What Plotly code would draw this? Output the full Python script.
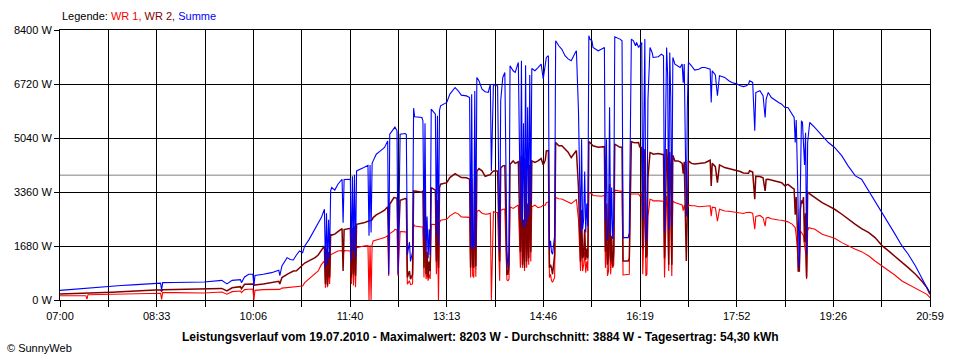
import plotly.graph_objects as go

# time in minutes after 07:00 (19.07.2010)
minutes = [0, 8, 16, 25, 26, 27, 40, 50, 59, 70, 80, 92, 97, 98, 99, 110, 125, 139,
           156, 161, 166, 174, 175, 178, 182, 186, 187, 188, 196, 204, 211, 212, 214, 219, 222, 225, 228, 231, 234, 236,
           240, 243, 246, 249, 252, 255, 256, 257, 258, 259, 260, 261, 262, 265, 268, 272, 273, 274, 280,
           281, 282, 283, 284, 285, 286, 293, 297, 298, 299, 300, 301, 302, 305, 309, 313, 316, 317, 318, 322, 323, 325,
           326, 328, 333, 334, 335, 337, 338, 340, 341, 342, 349, 350, 351, 352, 353, 354, 355, 356, 357, 358, 362, 363,
           364, 365, 366, 367, 373, 376, 381, 384, 387, 392, 395, 396, 397, 398, 399, 400, 401, 402, 404, 407, 410, 413,
           415, 416, 418,
           420, 422, 424, 425, 427, 429, 431, 432, 433, 434, 437, 439, 442, 444, 445, 446, 447, 448, 449, 450, 451, 452,
           453, 454, 455, 458, 461, 464, 466, 468, 469, 471, 472, 473, 474, 475, 476, 477, 478, 481, 484, 487, 490, 493,
           497, 498, 500, 501, 502, 503, 504, 505, 506, 507, 508, 509, 510, 511, 513, 514, 519, 522, 525, 526, 527, 528,
           529, 530, 531, 532, 533, 534, 535, 540, 542, 543, 548, 549, 550, 551, 553, 555, 556, 558,
           559, 561, 562, 563, 564, 565, 566, 567, 569, 571, 572, 577, 580, 582, 583, 584, 585, 586, 587, 588, 589, 590,
           591, 593, 596, 598, 600, 601, 602, 604, 605, 606, 609, 612, 616, 619, 622, 627, 628, 629, 632, 634, 636, 641,
           645, 648, 653, 656, 659, 662, 664, 665, 668, 670, 671, 675, 678, 680, 681, 683, 686, 690, 693, 696, 699,
           702, 706, 708, 709, 710, 711, 712, 713, 714, 715, 716, 717, 718, 719, 720, 721, 722, 723, 728, 735, 741, 747,
           754, 760, 767, 773, 780, 786, 793, 799, 805, 812, 818, 825, 831, 836, 839]

wr1 = [130, 130, 130, 130, 30, 165, 170, 175, 200, 200, 205, 205, 210, 20, 230, 230, 225, 220,
       249, 180, 260, 280, 230, 322, 335, 342, 0, 300, 322, 330, 350, 330, 370, 384, 395, 400, 405, 420, 436, 540,
       650, 747, 830, 903, 1100, 1215, 380, 1100, 400, 1000, 500, 1422, 1422, 1480, 1526, 1540, 1400, 1540, 1526,
       500, 1550, 450, 1600, 400, 1630, 1682, 1690, 0, 1700, 0, 1720, 1837, 1860, 1889, 1941, 2000, 750, 2066, 2150, 2200, 2180,
       747, 2130, 2120, 2100, 490, 600, 480, 500, 2356, 2300, 2273, 2270, 700, 2200, 650, 900, 600, 800, 650, 2356, 2350, 800,
       2330, 0, 2400, 2481, 2512, 2616, 2720, 2680, 2585, 2590, 2570, 700, 2600, 750, 700, 2650, 720, 2750, 2792, 2700, 2668, 2680,
       2700, 0, 2750,
       2720, 2720, 600, 2780, 2823, 2830, 621, 600, 650, 2900, 2850, 2900, 2958, 1000, 2950, 1000, 2000, 900, 2900, 1000, 2200, 1100,
       2800, 1200, 2900, 2950, 2870, 2900, 2950, 2950, 3031, 3050, 700, 800, 600, 550, 650, 700, 3187, 3150, 3140, 3100, 3050, 3000,
       3100, 3130, 2500, 1500, 900, 2000, 900, 1100, 1500, 850, 1200, 900, 3342, 3330, 3310, 3250, 3230, 3230, 3250, 1000, 2000, 750,
       900, 2500, 800, 1400, 1000, 1100, 3415, 3380, 3380, 778, 778, 800, 3300, 3300, 3300, 3290, 3300, 3300,
       3239, 3300, 800, 2500, 3250, 750, 800, 2600, 3135, 3110, 3083, 3083, 3083, 3070, 700, 2400, 3239, 2900, 900, 3135, 2600, 750,
       3080, 3030, 3000, 2960, 2960, 2780, 2950, 2650, 2800, 2950, 2930, 2930, 2900, 2910, 2920, 2930, 2610, 2890, 2870, 2450, 2823, 2770,
       2760, 2740, 2720, 2700, 2690, 2720, 2730, 2730, 2700, 2200, 2600, 2630, 2560, 2300, 2550, 2570, 2530, 2500, 2490, 2480, 2460,
       2430, 2360, 2300, 2252, 2000, 1600, 900, 900, 2150, 2100, 2050, 2000, 1700, 1500, 650, 2150, 2252, 2240, 2200, 2045, 1990, 1920,
       1785, 1682, 1578, 1505, 1370, 1215, 1059, 903, 778, 592, 488, 384, 280, 176, 73]

wr2 = [190, 195, 205, 215, 210, 215, 225, 240, 255, 280, 300, 315, 315, 280, 320, 330, 340, 340,
       360, 280, 380, 415, 350, 488, 490, 495, 457, 470, 500, 540, 580, 500, 700, 799, 850, 900, 910, 1000, 1090, 1150,
       1215, 1260, 1318, 1400, 1526, 1682, 500, 1600, 450, 1500, 700, 2045, 2020, 2050, 2128, 2221, 900, 2190, 2230,
       700, 2250, 800, 2300, 750, 2356, 2400, 2450, 2450, 2470, 2480, 2500, 2564, 2650, 2720, 2792, 2900, 1700, 2979, 3187, 3180, 3170,
       1578, 3100, 3156, 3150, 700, 900, 650, 800, 3394, 3394, 3350, 3400, 1000, 3350, 800, 1500, 700, 1200, 900, 3498, 3420, 1200,
       3100, 1000, 3500, 3602, 3650, 3809, 3934, 3880, 3809, 3800, 3760, 1000, 3800, 1100, 1000, 3850, 1050, 4000, 4090, 4020, 3850, 3880,
       3900, 3950, 4017,
       4017, 4017, 1200, 4100, 4173, 4180, 799, 800, 1100, 4225, 4328, 4250, 4300, 1500, 4484, 1100, 2500, 1000, 4400, 1200, 3000, 1300,
       4200, 1500, 4328, 4280, 4328, 4400, 4200, 4350, 4640, 4650, 1000, 1100, 1000, 800, 1100, 1400, 4900, 4800, 4796, 4700, 4600, 4432,
       4600, 4650, 3500, 2000, 1200, 2800, 1300, 1400, 2200, 1250, 1600, 1300, 4930, 4900, 4850, 4796, 4750, 4760, 4770, 1500, 3000, 1100,
       1400, 3600, 1200, 2000, 1050, 1500, 4848, 4750, 4750, 1215, 1215, 1300, 4000, 4930, 4900, 4880, 4890, 4900,
       4764, 4740, 1600, 3600, 4700, 1318, 1400, 3800, 4588, 4560, 4536, 4560, 4536, 4520, 1300, 3200, 4700, 4200, 1100, 4600, 3800, 1100,
       4500, 4328, 4328, 4300, 4250, 3930, 4300, 1215, 3600, 4328, 4250, 4230, 4250, 4250, 4270, 4349, 3550, 4250, 4150, 3650, 4204, 4120,
       4090, 4069, 4020, 3996, 3950, 3940, 3945, 4020, 3980, 3135, 3850, 3840, 3800, 3394, 3750, 3757, 3730, 3705, 3690, 3650, 3550,
       3600, 3498, 3450, 2650, 3200, 2300, 900, 900, 2800, 3100, 3000, 3200, 1800, 2700, 700, 3350, 3342, 3300, 3187, 3031, 2927, 2823,
       2668, 2512, 2356, 2221, 2097, 1941, 1682, 1526, 1370, 1163, 1007, 799, 592, 384, 176]

summe = [300, 320, 350, 380, 370, 385, 405, 430, 450, 470, 490, 520, 525, 311, 540, 545, 560, 560,
         612, 500, 612, 633, 540, 716, 799, 800, 436, 760, 800, 851, 924, 760, 1059, 1318, 1260, 1246, 1401, 1526, 1474, 1682,
         1870, 2045, 2200, 2356, 2564, 2823, 1000, 2700, 1100, 2500, 1300, 3394, 3498, 3420, 3602, 3757, 2400, 3750, 3757,
         1200, 3850, 1500, 3900, 1300, 4017, 4121, 4190, 2000, 4200, 2100, 4250, 4328, 4536, 4640, 4744, 4951, 800, 5159, 5366, 5380, 5263,
         800, 5159, 5180, 5150, 1400, 1800, 1200, 1500, 5968, 5700, 5678, 5574, 1900, 5500, 1500, 2600, 1300, 2200, 1400, 5937, 5780, 2000,
         5730, 1700, 5900, 6041, 6145, 6405, 6612, 6510, 6373, 6350, 6300, 1600, 6400, 1700, 1600, 6500, 1650, 6924, 6820, 6560, 6480, 6457,
         6716, 4017, 6716,
         6664, 6664, 1500, 6200, 6924, 7080, 1526, 1000, 1526, 7287, 7132, 7080, 7391, 2500, 7443, 2300, 5500, 2252, 7300, 2400, 6000, 2600,
         7000, 3000, 7200, 7132, 7230, 7339, 6880, 7443, 7547, 7600, 1600, 1840, 1500, 1422, 1700, 2000, 8065, 7910, 7800, 7599, 7500, 7443,
         7702, 7754, 5900, 3500, 2100, 5000, 2200, 2500, 4000, 2100, 3000, 2300, 8221, 8117, 8065, 7858, 7754, 7800, 7858, 2460, 5000, 1840,
         2300, 6000, 2000, 3500, 1900, 2600, 8190, 8117, 8065, 1941, 1941, 2100, 6500, 8117, 8065, 7910, 8010, 7858,
         7910, 8010, 2500, 6000, 8117, 1800, 2200, 6249, 7858, 7702, 7547, 7570, 7650, 7600, 2100, 5500, 7858, 7000, 2200, 7702, 6300, 2300,
         7547, 7339, 7287, 7235, 7339, 6760, 7339, 2600, 6000, 7391, 7287, 7152, 7180, 7235, 7235, 7180, 6145, 7130, 7000, 6353, 6976, 6924,
         6820, 6768, 6716, 6664, 6640, 6664, 6716, 6820, 6768, 5263, 6455, 6508, 6353, 5678, 6249, 6457, 6300, 6197, 6145, 6093, 5989,
         5989, 5761, 5680, 4899, 5600, 4200, 1837, 1000, 3500, 5574, 5522, 5000, 4200, 5200, 1422, 4900, 5366, 5522, 5366, 5107, 4899, 4744,
         4484, 4173, 3861, 3757, 3394, 3083, 2720, 2408, 2066, 1682, 1422, 1059, 675, 384, 228]

time_labels = ["07:00", "08:33", "10:06", "11:40", "13:13", "14:46", "16:19", "17:52", "19:26", "20:59"]
y_ticks = [0, 1680, 3360, 5040, 6720, 8400]
average = 3884
title_text = "Leistungsverlauf vom 19.07.2010 - Maximalwert: 8203 W - Durchschnitt: 3884 W - Tagesertrag: 54,30 kWh"

day_span = 839  # 07:00 .. 20:59
n_div = 2 * (len(time_labels) - 1)
x_tickvals = [day_span * i / n_div for i in range(n_div + 1)]
x_ticktext = []
for i in range(n_div + 1):
    x_ticktext.append(time_labels[i // 2] if i % 2 == 0 else "")

fig = go.Figure()
fig.add_trace(go.Scatter(x=minutes, y=wr1, mode="lines", name="WR 1",
                         line=dict(color="#FF0000", width=1.1)))
fig.add_trace(go.Scatter(x=minutes, y=wr2, mode="lines", name="WR 2",
                         line=dict(color="#800000", width=1.5)))
fig.add_trace(go.Scatter(x=minutes, y=summe, mode="lines", name="Summe",
                         line=dict(color="#0000FF", width=1.1)))

fig.add_shape(type="line", xref="paper", x0=0, x1=1, yref="y", y0=average, y1=average,
              line=dict(color="#808080", width=1), layer="below")

font_family = "Liberation Sans, Arial, sans-serif"

fig.update_layout(
    width=960, height=360,
    margin=dict(l=60, r=30, t=30, b=60),
    paper_bgcolor="white", plot_bgcolor="white",
    showlegend=False,
    font=dict(family=font_family, size=11, color="black"),
    xaxis=dict(range=[0, day_span], tickmode="array", tickvals=x_tickvals, ticktext=x_ticktext,
               showgrid=True, gridcolor="black", gridwidth=1,
               ticks="outside", ticklen=6, tickcolor="black", tickwidth=1,
               showline=True, linecolor="black", linewidth=1, mirror=True,
               zeroline=False, tickfont=dict(size=11, family=font_family)),
    yaxis=dict(range=[0, 8400], tickmode="array", tickvals=y_ticks,
               ticktext=[f"{v} W" for v in y_ticks],
               showgrid=True, gridcolor="black", gridwidth=1,
               ticks="outside", ticklen=5, tickcolor="black", tickwidth=1,
               showline=True, linecolor="black", linewidth=1, mirror=True,
               zeroline=False, tickfont=dict(size=11, family=font_family)),
    annotations=[
        dict(text='Legende: <span style="color:#FF0000">WR 1,</span> '
                  '<span style="color:#800000">WR 2,</span> '
                  '<span style="color:#0000FF">Summe</span>',
             xref="paper", yref="paper", x=0, y=1.052, xanchor="left", yanchor="middle",
             showarrow=False, font=dict(size=11, family=font_family, color="black")),
        dict(text="<b>" + title_text + "</b>",
             xref="paper", yref="paper", x=0.483, y=-0.137, xanchor="center", yanchor="middle",
             showarrow=False, font=dict(size=12, family=font_family, color="black")),
        dict(text="© SunnyWeb",
             xref="paper", yref="paper", x=-0.0632, y=-0.178, xanchor="left", yanchor="middle",
             showarrow=False, font=dict(size=11, family=font_family, color="black")),
    ],
)

fig.write_html("out.html",
               config={"displayModeBar": False},
               post_script="document.body.style.margin='0';document.body.style.overflow='hidden';")
